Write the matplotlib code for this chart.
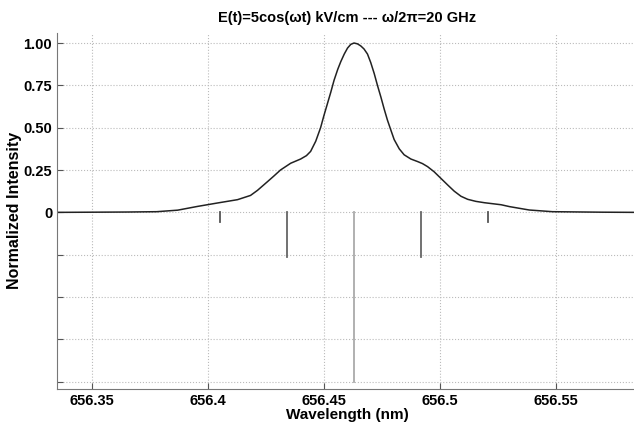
import numpy as np
import matplotlib.pyplot as plt

plt.rcParams["font.family"] = ["Liberation Sans", "DejaVu Sans"]
plt.rcParams["font.weight"] = "bold"

# profile
wavelength = [656.335, 656.35, 656.365, 656.378, 656.387, 656.3955, 656.404,
              656.4128, 656.4184, 656.4214, 656.4256, 656.4285, 656.4313,
              656.4357, 656.44, 656.4425, 656.4443, 656.4465, 656.4486,
              656.450, 656.4515, 656.453, 656.4544, 656.456, 656.4573,
              656.4588, 656.4602, 656.4616, 656.463, 656.4645, 656.4659,
              656.4673, 656.4688, 656.4702, 656.4717, 656.4731, 656.4746,
              656.476, 656.4774, 656.4789, 656.4803, 656.4825, 656.4846,
              656.4875, 656.4904, 656.4925, 656.4947, 656.4975, 656.5005,
              656.5035, 656.5062, 656.5091, 656.512, 656.5155, 656.5192,
              656.5264, 656.530, 656.5385, 656.5485, 656.57, 656.585]
intensity = [0.0, 0.001, 0.002, 0.004, 0.013, 0.035, 0.055,
             0.075, 0.10, 0.13, 0.18, 0.215, 0.25,
             0.29, 0.315, 0.335, 0.36, 0.42, 0.50,
             0.57, 0.64, 0.71, 0.78, 0.845, 0.89,
             0.935, 0.97, 0.992, 1.0, 0.995, 0.983,
             0.965, 0.935, 0.885, 0.82, 0.75, 0.68,
             0.61, 0.545, 0.485, 0.43, 0.375, 0.34,
             0.315, 0.30, 0.288, 0.27, 0.24, 0.20,
             0.16, 0.125, 0.095, 0.077, 0.065, 0.057,
             0.045, 0.034, 0.014, 0.004, 0.001, 0.0]

# Stark components (drawn downward)
comp_wl = [656.4052, 656.434, 656.4631, 656.4917, 656.5206]
comp_depth = [0.057, 0.265, 1.0, 0.265, 0.057]
comp_color = ["#555555", "#666666", "#aaaaaa", "#666666", "#555555"]

xticks = [656.35, 656.4, 656.45, 656.5, 656.55]
xtick_labels = ["656.35", "656.4", "656.45", "656.5", "656.55"]
yticks = [-1.0, -0.75, -0.5, -0.25, 0, 0.25, 0.5, 0.75, 1.0]
ytick_labels = ["", "", "", "", "0", "0.25", "0.50", "0.75", "1.00"]

fig = plt.figure(figsize=(6.34, 4.25), dpi=100)
ax = fig.add_axes([0.0899, 0.0847, 0.915, 0.838])

ax.plot(wavelength, intensity, color="#222222", lw=1.1)
for w, d, c in zip(comp_wl, comp_depth, comp_color):
    ax.plot([w, w], [0, -d], color=c, lw=1.3)

ax.set_xlim(656.335, 656.585)
ax.set_ylim(-1.043, 1.06)
ax.set_xticks(xticks)
ax.set_xticklabels(xtick_labels)
ax.set_yticks(yticks)
ax.set_yticklabels(ytick_labels)
ax.tick_params(direction="in", length=4, labelsize=10.5, color="#555555")
ax.grid(True, linestyle=":", color="#bbbbbb", lw=0.8)

for s in ["top", "right"]:
    ax.spines[s].set_visible(False)
for s in ["left", "bottom"]:
    ax.spines[s].set_color("#777777")

ax.set_title("E(t)=5cos(\u03c9t) kV/cm --- \u03c9/2\u03c0=20 GHz",
             fontsize=10.5, fontweight="bold", pad=8)
ax.set_xlabel("Wavelength (nm)", fontsize=11, fontweight="bold", labelpad=0)
ax.set_ylabel("Normalized Intensity", fontsize=11.5, fontweight="bold", labelpad=1)

fig.savefig("out.png", dpi=100)
